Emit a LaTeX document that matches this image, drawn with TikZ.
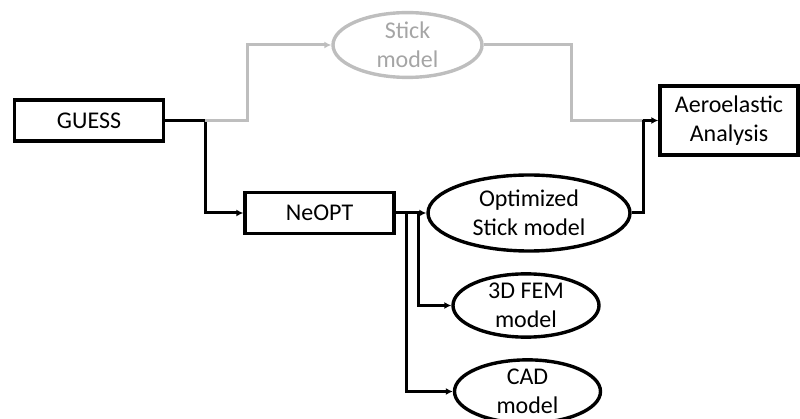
\documentclass[tikz,border=0pt]{standalone}
\usepackage{fontspec}
\setmainfont{Carlito}
\usetikzlibrary{shapes.geometric,arrows.meta}

\definecolor{faint}{RGB}{190,190,190}
\definecolor{fainttext}{RGB}{165,165,165}

\tikzset{
  box/.style={draw,line width=3.4pt,minimum width=149pt,minimum height=41pt,inner sep=0pt,font=\fontsize{24}{29}\selectfont,align=center},
  oval/.style={draw,ellipse,line width=3.4pt,inner sep=0pt,font=\fontsize{24}{29}\selectfont,align=center},
  wire/.style={line width=3pt},
  link/.style={wire,-{Latex[length=7pt,width=7pt]}},
  faded/.style={draw=faint,text=fainttext}
}

\begin{document}
\begin{tikzpicture}[x=1pt,y=-1pt]
  \useasboundingbox (0,0) rectangle (800,419);
  \clip (0,0) rectangle (800,419);

  \node[box] (guess) at (89,120.5) {GUESS};
  \node[box] (neopt) at (319.5,213) {NeOPT};
  \node[box,minimum width=138pt,minimum height=69pt] (aero) at (729,120.5) {Aeroelastic\\Analysis};

  \node[oval,faded,minimum width=149pt,minimum height=64pt] (stick) at (407.5,45) {Stick\\model};
  \node[oval,minimum width=202pt,minimum height=76pt] (opt) at (529,213) {Optimized\\Stick model};
  \node[oval,minimum width=146pt,minimum height=61pt] (fem) at (526,305.5) {3D FEM\\model};
  \node[oval,minimum width=146pt,minimum height=60pt] (cad) at (527.5,391.5) {CAD\\model};

  \coordinate (split) at (205,120.5);
  \coordinate (join) at (643,120.5);
  \coordinate (bend) at (571,120.5);

  % GUESS to NeOPT, and the old stick model route in grey
  \draw[wire] (guess.east) -- (split);
  \draw[link] (split) |- (neopt.west);
  \draw[link,draw=faint] (split) -- (247,120.5) |- (stick.west);
  \draw[wire,draw=faint] (stick.east) -| (bend) -- (join);

  % NeOPT outputs
  \draw[link] (neopt.east) -- (opt.west);
  \draw[link] (neopt.east) -- ++(23,0) |- (fem.west);
  \draw[link] (neopt.east) -- ++(11,0) |- (cad.west);

  % into the analysis
  \draw[wire] (opt.east) -| (join);
  \draw[link] (join) -- (aero.west);
\end{tikzpicture}
\end{document}
